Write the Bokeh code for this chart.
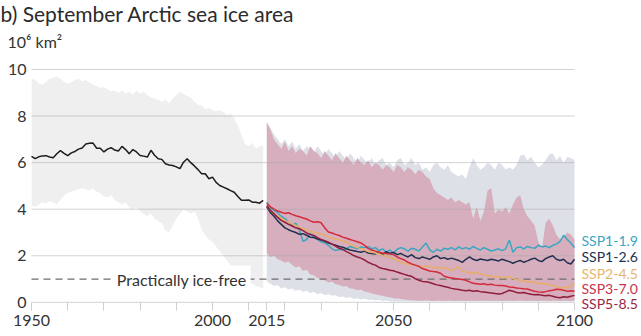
from bokeh.plotting import figure
from bokeh.models import Range1d, FixedTicker, Label, Title
from bokeh.embed import file_html
from bokeh.resources import INLINE

# ---------------- data ----------------
hist_years = list(range(1950, 2015))
proj_years = list(range(2015, 2101))

hist_mean = [6.27, 6.17, 6.25, 6.29, 6.30, 6.24, 6.21, 6.38, 6.52, 6.40,
             6.30, 6.42, 6.48, 6.58, 6.63, 6.80, 6.83, 6.84, 6.62, 6.62,
             6.46, 6.58, 6.64, 6.54, 6.50, 6.70, 6.56, 6.38, 6.56, 6.46,
             6.31, 6.28, 6.24, 6.53, 6.32, 6.17, 6.14, 5.95, 5.90, 5.88,
             5.82, 5.74, 6.02, 6.17, 6.00, 5.86, 5.70, 5.52, 5.52, 5.31,
             5.38, 5.15, 5.02, 4.95, 4.88, 4.80, 4.73, 4.55, 4.38, 4.38,
             4.40, 4.30, 4.30, 4.26, 4.38]
hist_high = [9.60, 9.55, 9.40, 9.35, 9.45, 9.60, 9.65, 9.70, 9.60, 9.45,
             9.40, 9.45, 9.55, 9.60, 9.50, 9.55, 9.45, 9.35, 9.30, 9.20,
             9.25, 9.15, 9.05, 9.10, 9.00, 9.10, 8.95, 9.05, 8.90, 9.10,
             8.95, 9.05, 8.90, 8.80, 8.75, 8.70, 8.60, 8.70, 8.55, 8.75,
             8.90, 9.05, 8.95, 8.85, 8.80, 8.60, 8.50, 8.45, 8.30, 8.35,
             8.25, 8.20, 8.25, 8.15, 8.05, 8.10, 7.90, 7.60, 7.20, 6.80,
             6.70, 6.85, 6.60, 6.70, 6.75]
hist_low = [4.15, 4.10, 4.20, 4.30, 4.25, 4.35, 4.30, 4.20, 4.40, 4.60,
            4.70, 4.75, 4.80, 4.85, 4.90, 4.85, 4.80, 4.90, 4.75, 4.70,
            4.55, 4.50, 4.60, 4.40, 4.30, 4.20, 4.30, 4.10, 4.00, 4.10,
            3.90, 3.80, 3.70, 3.80, 3.60, 3.50, 3.40, 3.10, 3.00, 3.30,
            3.60, 3.80, 4.00, 3.90, 3.80, 3.90, 3.60, 3.10, 2.90, 2.70,
            2.60, 2.40, 2.20, 2.00, 1.80, 1.60, 1.45, 1.30, 1.15, 1.00,
            0.90, 0.80, 0.70, 0.65, 0.60]

ssp119 = [4.30, 4.05, 3.95, 3.85, 3.70, 3.60, 3.45, 3.30, 3.40, 3.10,
          2.62, 2.70, 2.95, 2.80, 2.70, 2.60, 2.55, 2.45, 2.30, 2.22,
          2.28, 2.25, 2.30, 2.40, 2.35, 2.30, 2.38, 2.35, 2.40, 2.30,
          2.35, 2.22, 2.30, 2.15, 2.25, 2.10, 2.28, 2.35, 2.30, 2.20,
          2.32, 2.28, 2.20, 2.38, 2.55, 2.25, 2.15, 2.28, 2.20, 2.32,
          2.28, 2.35, 2.25, 2.38, 2.30, 2.35, 2.28, 2.40, 2.32, 2.25,
          2.35, 2.28, 2.20, 2.25, 2.30, 2.22, 2.30, 2.68, 2.15, 2.35,
          2.38, 2.30, 2.40, 2.35, 2.32, 2.45, 2.38, 2.42, 2.35, 2.45,
          2.50, 2.62, 2.88, 2.70, 2.55, 2.35]
ssp126 = [4.10, 3.85, 3.70, 3.50, 3.35, 3.20, 3.12, 3.05, 3.00, 2.92,
          2.95, 2.88, 2.80, 2.78, 2.72, 2.68, 2.62, 2.55, 2.50, 2.45,
          2.40, 2.37, 2.30, 2.25, 2.22, 2.18, 2.15, 2.20, 2.12, 2.10,
          2.08, 2.15, 2.05, 2.18, 2.10, 2.15, 2.05, 2.10, 2.02, 1.95,
          2.05, 1.92, 1.88, 1.95, 1.90, 1.85, 1.95, 2.00, 1.88, 1.92,
          1.85, 1.90, 1.85, 1.80, 1.72, 1.85, 1.95, 1.85, 1.80, 1.86,
          1.83, 1.80, 1.85, 1.82, 1.78, 1.85, 1.80, 1.75, 1.68, 1.75,
          1.80, 1.72, 1.78, 1.85, 1.90, 1.80, 1.75, 1.88, 1.95, 2.00,
          1.85, 1.80, 1.85, 1.70, 1.65, 1.85]
ssp245 = [4.15, 3.95, 3.80, 3.70, 3.62, 3.50, 3.45, 3.37, 3.30, 3.22,
          3.17, 3.10, 3.05, 3.00, 2.98, 2.95, 2.88, 2.80, 2.75, 2.72,
          2.68, 2.66, 2.58, 2.50, 2.42, 2.35, 2.30, 2.25, 2.18, 2.15,
          2.12, 2.09, 2.02, 1.98, 1.92, 1.87, 1.82, 1.72, 1.68, 1.62,
          1.65, 1.60, 1.55, 1.50, 1.58, 1.52, 1.48, 1.50, 1.45, 1.51,
          1.42, 1.38, 1.45, 1.52, 1.36, 1.30, 1.28, 1.25, 1.30, 1.22,
          1.18, 1.15, 1.12, 1.08, 1.12, 1.05, 1.08, 1.10, 1.02, 0.98,
          0.95, 0.92, 0.88, 0.90, 0.85, 0.82, 0.79, 0.80, 0.75, 0.72,
          0.70, 0.60, 0.65, 0.62, 0.70, 0.80]
ssp370 = [4.25, 4.10, 4.00, 3.92, 3.87, 3.82, 3.85, 3.78, 3.72, 3.68,
          3.62, 3.58, 3.50, 3.44, 3.46, 3.42, 3.20, 3.02, 2.98, 2.92,
          2.87, 2.80, 2.75, 2.70, 2.65, 2.60, 2.55, 2.45, 2.32, 2.25,
          2.20, 2.15, 2.12, 2.10, 2.08, 2.05, 1.95, 1.88, 1.82, 1.72,
          1.65, 1.60, 1.55, 1.45, 1.40, 1.35, 1.32, 1.30, 1.25, 1.12,
          1.08, 1.05, 1.02, 1.00, 0.98, 0.95, 0.88, 0.82, 0.80, 0.78,
          0.80, 0.76, 0.78, 0.74, 0.72, 0.72, 0.70, 0.66, 0.65, 0.62,
          0.60, 0.58, 0.57, 0.52, 0.48, 0.45, 0.43, 0.46, 0.50, 0.52,
          0.56, 0.55, 0.52, 0.48, 0.50, 0.48]
ssp585 = [4.15, 3.95, 3.80, 3.65, 3.52, 3.44, 3.35, 3.28, 3.20, 3.16,
          3.08, 2.98, 2.92, 2.87, 2.78, 2.70, 2.65, 2.58, 2.50, 2.42,
          2.32, 2.28, 2.18, 2.10, 2.01, 1.95, 1.90, 1.82, 1.72, 1.65,
          1.60, 1.50, 1.45, 1.42, 1.38, 1.36, 1.30, 1.25, 1.20, 1.15,
          1.12, 1.02, 0.95, 0.90, 0.88, 0.85, 0.80, 0.75, 0.72, 0.68,
          0.65, 0.60, 0.57, 0.55, 0.52, 0.50, 0.52, 0.48, 0.50, 0.46,
          0.44, 0.42, 0.40, 0.38, 0.36, 0.38, 0.45, 0.52, 0.48, 0.42,
          0.40, 0.42, 0.38, 0.35, 0.33, 0.34, 0.30, 0.28, 0.30, 0.26,
          0.22, 0.20, 0.24, 0.22, 0.26, 0.30]

ssp126_high = [7.75, 7.50, 7.20, 7.00, 6.80, 7.00, 6.70, 6.90, 6.60, 6.80,
               6.50, 6.70, 6.60, 6.40, 6.70, 6.50, 6.30, 6.60, 6.40, 6.20,
               6.50, 6.30, 6.10, 6.40, 6.20, 6.00, 6.30, 6.10, 6.00, 6.20,
               5.90, 6.10, 6.20, 5.90, 6.00, 5.80, 6.10, 6.20, 5.90, 6.00,
               6.20, 5.90, 6.00, 5.70, 5.80, 5.60, 5.90, 6.00, 5.80, 5.70,
               5.90, 5.60, 5.50, 5.40, 5.50, 5.30, 5.80, 6.20, 5.90, 5.70,
               5.80, 6.00, 5.90, 5.70, 6.00, 5.90, 5.70, 5.80, 5.70, 5.90,
               6.30, 6.35, 6.10, 6.25, 6.00, 5.80, 5.90, 6.10, 6.35, 6.40,
               6.10, 6.30, 6.00, 6.25, 6.20, 6.10]
ssp126_low = [0.90, 0.80, 0.70, 0.75, 0.60, 0.65, 0.55, 0.60, 0.50, 0.55,
              0.45, 0.50, 0.40, 0.45, 0.35, 0.40, 0.30, 0.35, 0.28, 0.30,
              0.22, 0.25, 0.20, 0.22, 0.15, 0.18, 0.12, 0.15, 0.10, 0.12,
              0.08, 0.10, 0.06, 0.08, 0.05, 0.04, 0.04, 0.04, 0.04, 0.04,
              0.04, 0.04, 0.04, 0.04, 0.04, 0.04, 0.04, 0.04, 0.04, 0.04,
              0.04, 0.04, 0.04, 0.04, 0.04, 0.04, 0.04, 0.04, 0.04, 0.04,
              0.04, 0.04, 0.04, 0.04, 0.04, 0.04, 0.04, 0.04, 0.04, 0.04,
              0.04, 0.04, 0.04, 0.04, 0.04, 0.04, 0.04, 0.04, 0.04, 0.04,
              0.04, 0.04, 0.04, 0.04, 0.04, 0.04]
ssp585_high = [7.75, 7.40, 7.00, 6.80, 6.60, 6.90, 6.50, 6.70, 6.40, 6.60,
               6.50, 6.30, 6.70, 6.50, 6.40, 6.20, 6.50, 6.30, 6.10, 6.40,
               6.20, 6.00, 6.30, 6.10, 5.90, 6.20, 6.00, 5.90, 6.10, 5.80,
               6.00, 5.90, 5.70, 5.90, 5.80, 5.60, 5.90, 5.80, 5.60, 5.80,
               5.70, 5.50, 5.70, 5.60, 5.40, 5.30, 4.90, 4.70, 4.60, 4.50,
               4.40, 4.50, 4.30, 4.40, 4.30, 4.20, 4.30, 3.60, 4.10, 3.50,
               3.90, 4.80, 4.90, 3.80, 4.00, 3.90, 4.10, 3.80, 4.20, 4.50,
               4.60, 4.00, 3.70, 3.50, 3.30, 2.60, 2.30, 3.40, 3.60, 3.30,
               2.90, 2.70, 2.80, 3.00, 2.90, 2.70]
ssp585_low = [2.10, 1.95, 2.00, 1.85, 1.80, 1.70, 1.75, 1.60, 1.50, 1.55,
              1.35, 1.40, 1.20, 1.15, 1.05, 1.00, 0.95, 0.85, 0.90, 0.78,
              0.75, 0.68, 0.70, 0.60, 0.58, 0.52, 0.55, 0.47, 0.43, 0.38,
              0.35, 0.30, 0.28, 0.24, 0.22, 0.18, 0.16, 0.14, 0.12, 0.10,
              0.09, 0.08, 0.07, 0.07, 0.08, 0.07, 0.06, 0.07, 0.07, 0.06,
              0.07, 0.07, 0.06, 0.07, 0.07, 0.06, 0.07, 0.07, 0.06, 0.07,
              0.07, 0.07, 0.06, 0.07, 0.07, 0.06, 0.07, 0.07, 0.06, 0.07,
              0.07, 0.07, 0.06, 0.07, 0.07, 0.06, 0.07, 0.07, 0.06, 0.07,
              0.07, 0.06, 0.07, 0.07, 0.06, 0.07]

scenarios = ["SSP1-1.9", "SSP1-2.6", "SSP2-4.5", "SSP3-7.0", "SSP5-8.5"]
scenario_values = [ssp119, ssp126, ssp245, ssp370, ssp585]
ice_free_threshold = 1.0

y_ticks = [0, 2, 4, 6, 8, 10]
x_ticks = [1950, 1960, 1970, 1980, 1990, 2000, 2010, 2015, 2020, 2030,
           2040, 2050, 2060, 2070, 2080, 2090, 2100]
x_tick_labels = {1950: "1950", 2000: "2000", 2015: "2015", 2050: "2050", 2100: "2100"}

# ---------------- styles / layout ----------------
FONT = "Lato"
line_colors = ["#3aa6c2", "#22304f", "#e8ae66", "#d42a3c", "#8f1d3c"]
label_colors = ["#3aa6c2", "#22304f", "#e8b56f", "#c8324c", "#9b2846"]
label_y = [2.65, 1.97, 1.24, 0.59, -0.03]

x_start, x_end = x_ticks[0], x_ticks[-1]
px_per_year = 543.0 / (x_end - x_start)
x_view_end = x_end + 67.0 / px_per_year   # room for the scenario labels
y_view_start = -0.35                       # room below zero for the last label

p = figure(width=641, height=336, output_backend="svg", toolbar_location=None,
           x_range=Range1d(x_start, x_view_end), y_range=Range1d(y_view_start, y_ticks[-1]),
           min_border_left=31, min_border_right=0, min_border_top=69,
           min_border_bottom=26)
p.title.text = ""
p.outline_line_color = None
p.background_fill_color = "white"
p.border_fill_color = "white"
p.xgrid.grid_line_color = None
p.ygrid.grid_line_color = None

xa = p.xaxis[0]
xa.ticker = FixedTicker(ticks=x_ticks, minor_ticks=[])
xa.major_label_overrides = {t: x_tick_labels.get(t, "") for t in x_ticks}
xa.axis_line_color = None
xa.major_tick_line_color = "#cfcfcf"
xa.major_tick_out = 0
xa.major_tick_in = 8
xa.minor_tick_line_color = None
xa.major_label_standoff = 4
xa.major_label_text_font = FONT
xa.major_label_text_font_size = "16px"
xa.major_label_text_color = "#333333"

ya = p.yaxis[0]
ya.ticker = FixedTicker(ticks=y_ticks, minor_ticks=[])
ya.axis_line_color = None
ya.major_tick_line_color = None
ya.minor_tick_line_color = None
ya.major_tick_out = 0
ya.major_tick_in = 0
ya.major_label_standoff = 5
ya.major_label_text_font = FONT
ya.major_label_text_font_size = "16px"
ya.major_label_text_color = "#333333"

# bands
p.varea(x=hist_years, y1=hist_low, y2=hist_high, fill_color="#efefef")
p.varea(x=proj_years, y1=ssp126_low, y2=ssp126_high, fill_color="#dde0e7")
p.varea(x=proj_years, y1=ssp585_low, y2=ssp585_high, fill_color="#d6aebd")

# horizontal grid lines (the one at zero doubles as the axis line)
p.segment(x0=[x_start] * len(y_ticks), y0=y_ticks, x1=[x_end] * len(y_ticks), y1=y_ticks,
          line_color="#a8a8a8", line_alpha=0.5, line_width=1, level="guide")

# ice-free threshold
p.segment(x0=[x_start], y0=[ice_free_threshold], x1=[x_end], y1=[ice_free_threshold],
          line_color="#6e6e6e", line_dash="7 5", line_width=1.3, level="guide")
p.add_layout(Label(x=1991.5, y=ice_free_threshold, text="Practically ice-free",
                   text_align="center", text_baseline="middle", text_font=FONT,
                   text_font_size="16px", text_color="#333333",
                   background_fill_color="white", padding=4))

# lines
p.line(hist_years, hist_mean, line_color="#1c1c1c", line_width=1.5, level="overlay")
for vals, col in zip(scenario_values, line_colors):
    p.line(proj_years, vals, line_color=col, line_width=1.5, level="overlay")

for name, ly, col in zip(scenarios, label_y, label_colors):
    p.add_layout(Label(x=x_end, y=ly, x_offset=7, text=name, text_align="left",
                       text_baseline="middle", text_font=FONT, text_font_size="14px",
                       text_color=col))

# title and unit (above the frame)
p.add_layout(Title(text="10⁶ km²", align="left", offset=-24, standoff=34,
                   vertical_align="top", text_baseline="alphabetic",
                   text_font=FONT, text_font_size="16px", text_font_style="normal",
                   text_color="#333333"), "above")
p.add_layout(Title(text="b) September Arctic sea ice area", align="left", offset=-31,
                   standoff=-26, vertical_align="top", text_baseline="alphabetic",
                   text_font=FONT, text_font_size="21px",
                   text_font_style="normal", text_color="#2b2b2b"), "above")

open("out.html", "w").write(file_html(p, INLINE))
